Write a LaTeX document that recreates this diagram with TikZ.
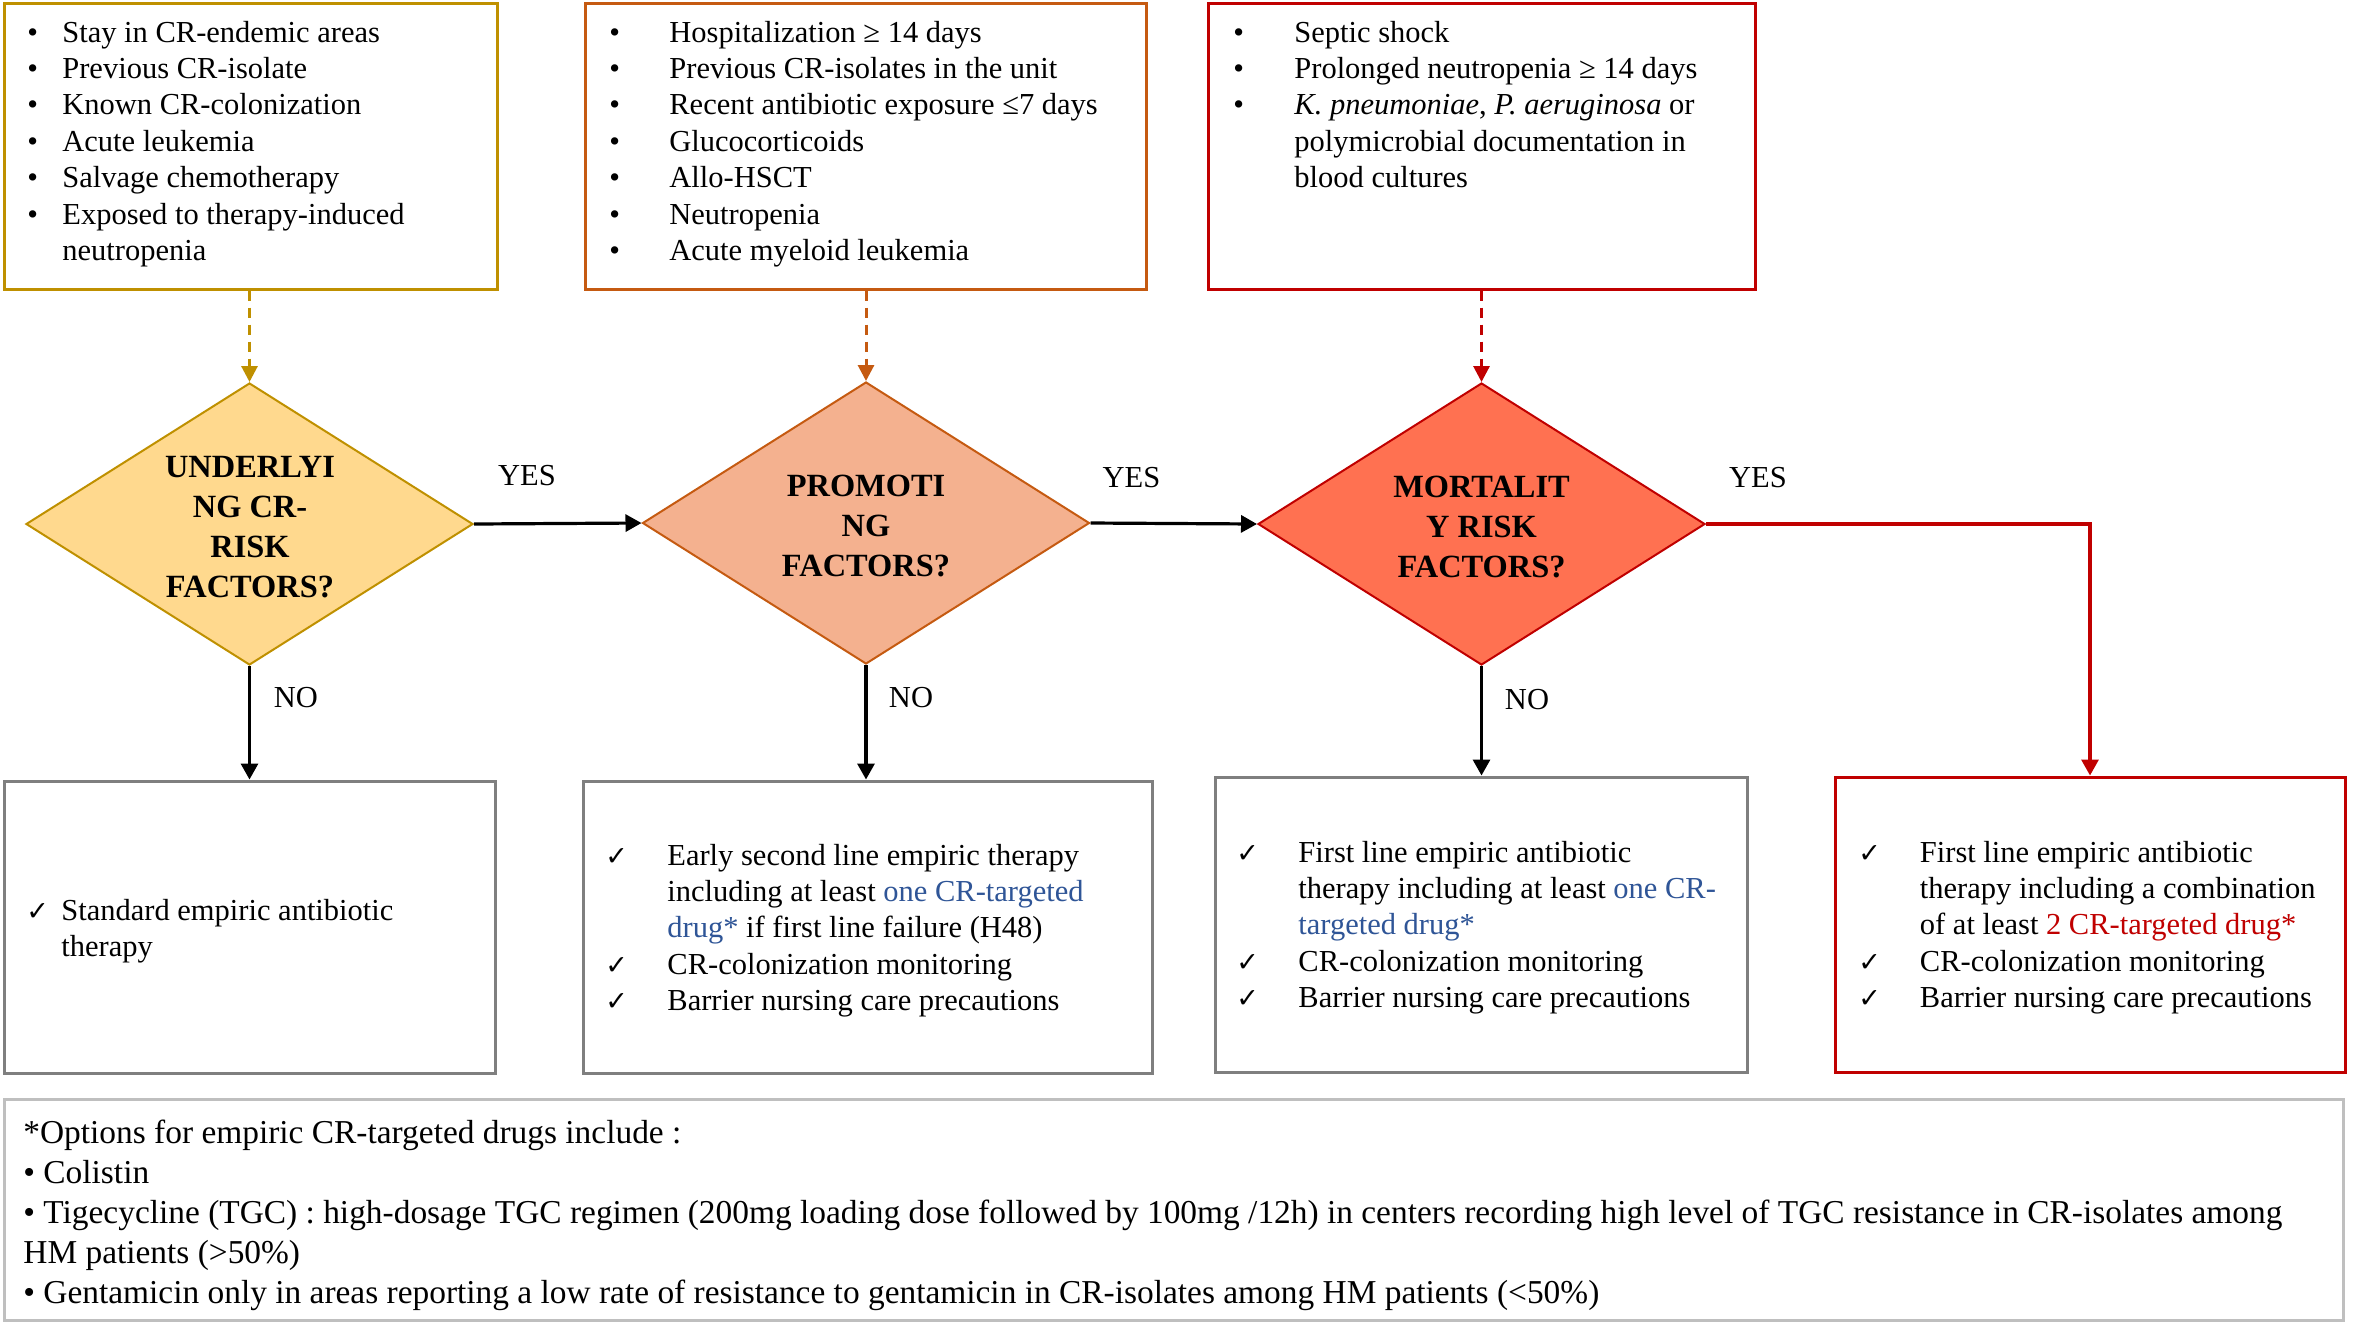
\documentclass[tikz,border=0pt]{standalone}
\usepackage{fontspec}
\setmainfont{Liberation Serif}
\newfontfamily\symf{DejaVu Sans}
\usetikzlibrary{arrows.meta,shapes.geometric,fit}
\definecolor{goldc}{HTML}{BF9000}
\definecolor{orgc}{HTML}{C55A11}
\definecolor{redc}{HTML}{C00000}
\definecolor{grayc}{HTML}{7F7F7F}
\definecolor{lgrayc}{HTML}{BFBFBF}
\definecolor{dafill}{HTML}{FFD98E}
\definecolor{dbfill}{HTML}{F4B18F}
\definecolor{dcfill}{HTML}{FF7151}
\definecolor{bluet}{HTML}{2F5597}
\newcommand{\ck}{{\symf\fontsize{13.5}{13.5}\selectfont ✓}}
\newcommand{\bl}{•}
\begin{document}
\begin{tikzpicture}[x=0.5pt,y=-0.5pt,
  frame/.style={draw, line width=1.5pt, inner sep=0pt, fill=white},
  dia/.style={diamond, draw, line width=1pt, minimum width=223.5pt, minimum height=141pt, inner sep=0pt},
  txt/.style={anchor=base west, inner sep=0pt, font=\fontsize{15.25}{18.2}\selectfont},
  foot/.style={anchor=base west, inner sep=0pt, font=\fontsize{16.7}{20}\selectfont},
  dtxt/.style={anchor=base, inner sep=0pt, font=\fontsize{16.2}{20}\selectfont\bfseries},
  lbl/.style={anchor=base, inner sep=0pt, font=\fontsize{15.25}{18.2}\selectfont},
  conn/.style={line width=1.6pt, -{Triangle[length=8pt,width=8.5pt]}},
  dconn/.style={line width=1.5pt, dash pattern=on 5pt off 3.5pt, -{Triangle[length=8pt,width=8pt]}}
]
\path[use as bounding box] (0,0) rectangle (2353,1329);

% top boxes
\node[frame, draw=goldc, fit={(4,3)(497,289)}] (boxA) {};
\node[frame, draw=orgc, fit={(585,3)(1146,289)}] (boxB) {};
\node[frame, draw=redc, fit={(1208,3)(1755,289)}] (boxC) {};

% diamonds
\node[dia, draw=goldc, fill=dafill] (da) at (249.5,524) {};
\node[dia, draw=orgc, fill=dbfill] (db) at (866,523) {};
\node[dia, draw=redc, fill=dcfill] (dc) at (1481.5,524) {};

% bottom boxes
\node[frame, draw=grayc, fit={(4,781)(495,1073)}] (ea) {};
\node[frame, draw=grayc, fit={(583,781)(1152,1073)}] (eb) {};
\node[frame, draw=grayc, fit={(1215,777)(1747,1072)}] (ec) {};
\node[frame, draw=redc, fit={(1835,777)(2345,1072)}] (ed) {};

% footnote box
\node[frame, draw=lgrayc, fit={(4,1099)(2343,1320)}] (fn) {};

% connectors
\draw[dconn, goldc] (da.north |- boxA.south) -- (da.north);
\draw[dconn, orgc] (db.north |- boxB.south) -- (db.north);
\draw[dconn, redc] (dc.north |- boxC.south) -- (dc.north);
\draw[conn] (da.east) -- (db.west);
\draw[conn] (db.east) -- (dc.west);
\draw[conn, redc] (dc.east) -| (ed.north);
\draw[conn] (da.south) -- (da.south |- ea.north);
\draw[conn] (db.south) -- (db.south |- eb.north);
\draw[conn] (dc.south) -- (dc.south |- ec.north);

% labels
\node[lbl] (y1) at (527,485) {YES};
\node[lbl] (y2) at (1131.5,487) {YES};
\node[lbl] (y3) at (1758,487) {YES};
\node[lbl] (n1) at (296,707) {NO};
\node[lbl] (n2) at (911,707) {NO};
\node[lbl] (n3) at (1527,709) {NO};

% diamond texts
\node[dtxt] (tda) at (250,477) {\begin{tabular}[t]{@{}c@{}}UNDERLYI\\NG CR-\\RISK\\FACTORS?\end{tabular}};
\node[dtxt] (tdb) at (866,496) {\begin{tabular}[t]{@{}c@{}}PROMOTI\\NG\\FACTORS?\end{tabular}};
\node[dtxt] (tdc) at (1481.5,497) {\begin{tabular}[t]{@{}c@{}}MORTALIT\\Y RISK\\FACTORS?\end{tabular}};

% top box texts
\node[txt] (tA) at (27,42) {\begin{tabular}[t]{@{}p{17.5pt}@{}l@{}}
\bl & Stay in CR-endemic areas\\
\bl & Previous CR-isolate\\
\bl & Known CR-colonization\\
\bl & Acute leukemia\\
\bl & Salvage chemotherapy\\
\bl & Exposed to therapy-induced\\
 & neutropenia
\end{tabular}};
\node[txt] (tB) at (609,42) {\begin{tabular}[t]{@{}p{30pt}@{}l@{}}
\bl & Hospitalization ≥ 14 days\\
\bl & Previous CR-isolates in the unit\\
\bl & Recent antibiotic exposure ≤7 days\\
\bl & Glucocorticoids\\
\bl & Allo-HSCT\\
\bl & Neutropenia\\
\bl & Acute myeloid leukemia
\end{tabular}};
\node[txt] (tC) at (1233,42) {\begin{tabular}[t]{@{}p{30.5pt}@{}l@{}}
\bl & Septic shock\\
\bl & Prolonged neutropenia ≥ 14 days\\
\bl & \textit{K. pneumoniae}, \textit{P. aeruginosa} or\\
 & polymicrobial documentation in\\
 & blood cultures
\end{tabular}};

% bottom box texts
\node[txt] (tEa) at (26,920) {\begin{tabular}[t]{@{}p{17.5pt}@{}l@{}}
\ck & Standard empiric antibiotic\\
 & therapy
\end{tabular}};
\node[txt] (tEb) at (605,865) {\begin{tabular}[t]{@{}p{31pt}@{}l@{}}
\ck & Early second line empiric therapy\\
 & including at least \textcolor{bluet}{one CR-targeted}\\
 & \textcolor{bluet}{drug*} if first line failure (H48)\\
\ck & CR-colonization monitoring\\
\ck & Barrier nursing care precautions
\end{tabular}};
\node[txt] (tEc) at (1236,862) {\begin{tabular}[t]{@{}p{31pt}@{}l@{}}
\ck & First line empiric antibiotic\\
 & therapy including at least \textcolor{bluet}{one CR-}\\
 & \textcolor{bluet}{targeted drug*}\\
\ck & CR-colonization monitoring\\
\ck & Barrier nursing care precautions
\end{tabular}};
\node[txt] (tEd) at (1858,862) {\begin{tabular}[t]{@{}p{30.75pt}@{}l@{}}
\ck & First line empiric antibiotic\\
 & therapy including a combination\\
 & of at least \textcolor{redc}{2 CR-targeted drug*}\\
\ck & CR-colonization monitoring\\
\ck & Barrier nursing care precautions
\end{tabular}};

% footnote text
\node[foot] (tfn) at (23,1143) {\begin{tabular}[t]{@{}l@{}}
*Options for empiric CR-targeted drugs include :\\
• Colistin\\
• Tigecycline (TGC) : high-dosage TGC regimen (200mg loading dose followed by 100mg /12h) in centers recording high level of TGC resistance in CR-isolates among\\
HM patients (>50\%)\\
• Gentamicin only in areas reporting a low rate of resistance to gentamicin in CR-isolates among HM patients (<50\%)
\end{tabular}};
\end{tikzpicture}
\end{document}
